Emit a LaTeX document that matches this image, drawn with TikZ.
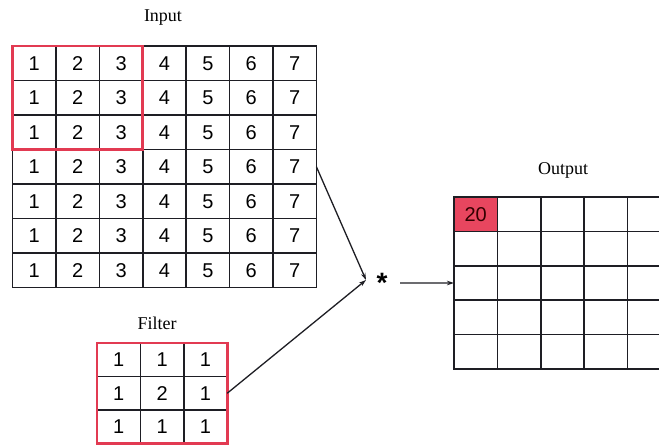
\documentclass[tikz,border=0pt]{standalone}
\usepackage{fontspec}
\setmainfont{Liberation Serif}
\newfontfamily\digitfont{Liberation Sans}
\usetikzlibrary{arrows.meta}
\definecolor{boxred}{HTML}{E23A52}
\definecolor{cellred}{HTML}{E8465F}
\definecolor{gridline}{HTML}{1E1E24}
\tikzset{
  cellbox/.style={draw=gridline, line width=1.5pt, minimum width=43.4pt, minimum height=34.5pt, inner sep=0pt, outer sep=0pt, font=\digitfont\fontsize{20}{20}\selectfont},
  fcellbox/.style={cellbox, minimum height=33.5pt},
  redframe/.style={draw=boxred, line width=2.8pt},
  lbl/.style={font=\fontsize{18}{18}\selectfont, inner sep=0pt},
  conn/.style={draw=gridline, line width=1.3pt, -{Stealth[length=7pt,width=4.5pt]}}
}
\begin{document}
\begin{tikzpicture}[x=1pt, y=-1pt]
\useasboundingbox (0,0) rectangle (659,445);
\fill[white] (0,0) rectangle (659,445);
% Input
\node[lbl] (inlbl) at (163,18) {Input};
\foreach \r in {1,...,7}{
  \foreach \c in {1,...,7}{
    \node[cellbox] (in-\r-\c) at ({12.6+43.4*(\c-0.5)}, {46+34.5*(\r-0.5)}) {\c};
  }
}
\draw[redframe] (in-1-1.north west) rectangle (in-3-3.south east);
% Filter
\node[lbl] (flbl) at (157,323) {Filter};
\foreach \r/\vals in {1/{1,1,1},2/{1,2,1},3/{1,1,1}}{
  \foreach \v [count=\c] in \vals{
    \node[fcellbox] (f-\r-\c) at ({97+43.4*(\c-0.5)}, {343+33.5*(\r-0.5)}) {\v};
  }
}
\draw[redframe] (f-1-1.north west) rectangle (f-3-3.south east);
% Output
\node[lbl] (outlbl) at (563,170) {Output};
\begin{scope}
\clip (0,0) rectangle (659,445);
\foreach \r in {1,...,5}{
  \foreach \c in {1,...,6}{
    \node[cellbox] (out-\r-\c) at ({454+43.4*(\c-0.5)}, {197+34.4*(\r-0.5)}) {};
  }
}
\end{scope}
\node[cellbox, fill=cellred, text=black!80!red] (o20) at (out-1-1) {20};
% Operator
\node[font=\digitfont\bfseries\fontsize{28}{28}\selectfont, inner sep=0pt] (star) at (382,283) {*};
\coordinate (meet) at (366,280);
\coordinate (starout) at (400,283);
\draw[conn] (in-4-7.east) -- (meet);
\draw[conn] (f-2-3.east) -- (meet);
\draw[conn] (starout) -- (out-3-1.west);
\end{tikzpicture}
\end{document}
